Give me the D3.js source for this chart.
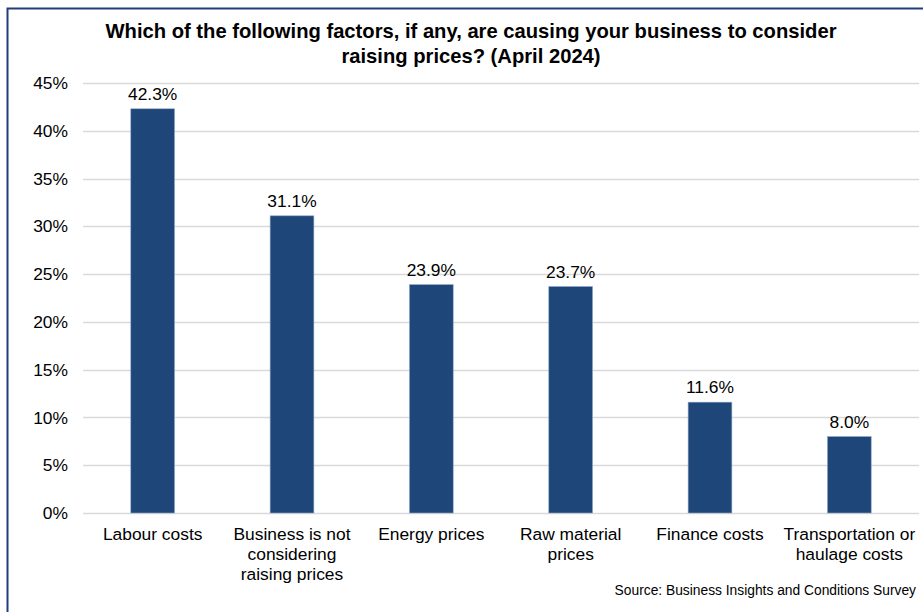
<!DOCTYPE html>
<html>
<head>
<meta charset="utf-8">
<script src="https://cdn.jsdelivr.net/npm/d3@7"></script>
<style>
  html, body { margin: 0; padding: 0; background: #fff; }
  svg { display: block; font-family: "Liberation Sans", Arial, sans-serif; }
</style>
</head>
<body>
<svg id="chart" width="923" height="612"></svg>
<script>
// Survey responses: share of businesses citing each factor
const categories = [
  ["Labour costs"],
  ["Business is not", "considering", "raising prices"],
  ["Energy prices"],
  ["Raw material", "prices"],
  ["Finance costs"],
  ["Transportation or", "haulage costs"]
];
const values = [42.3, 31.1, 23.9, 23.7, 11.6, 8.0];
const valueLabels = ["42.3%", "31.1%", "23.9%", "23.7%", "11.6%", "8.0%"];
const yTicks = [0, 5, 10, 15, 20, 25, 30, 35, 40, 45];
const titleLines = [
  "Which of the following factors, if any, are causing your business to consider",
  "raising prices? (April 2024)"
];
const sourceText = "Source: Business Insights and Conditions Survey";

const svg = d3.select("#chart");
const W = 923, H = 612;
const labelSize = 17.4;

// outer frame
svg.append("rect")
  .attr("x", 7.5).attr("y", 8.5)
  .attr("width", W).attr("height", H)
  .attr("fill", "#fff")
  .attr("stroke", "#1f3f7a")
  .attr("stroke-width", 2);

const plot = { left: 83, right: 919, top: 83, bottom: 513 };

const idx = d3.range(values.length);
const x = d3.scaleBand()
  .domain(idx)
  .range([plot.left, plot.right])
  .paddingInner(0.686)
  .paddingOuter(0.343);

const y = d3.scaleLinear()
  .domain([0, 45])
  .range([plot.bottom, plot.top]);

// gridlines
svg.append("g")
  .selectAll("line")
  .data(yTicks)
  .join("line")
  .attr("x1", plot.left).attr("x2", plot.right)
  .attr("y1", d => Math.round(y(d)) + 0.5)
  .attr("y2", d => Math.round(y(d)) + 0.5)
  .attr("stroke", "#d9d9d9")
  .attr("stroke-width", 1.3);

// y axis labels
const yAxis = d3.axisLeft(y)
  .tickValues(yTicks)
  .tickFormat(d => d + "%")
  .tickSize(0)
  .tickPadding(15);
const yg = svg.append("g")
  .attr("transform", `translate(${plot.left},0)`)
  .call(yAxis);
yg.select(".domain").remove();
yg.selectAll("text")
  .attr("font-size", labelSize)
  .attr("font-family", "Liberation Sans, Arial, sans-serif")
  .attr("fill", "#000");

// bars
svg.append("g")
  .selectAll("rect")
  .data(values)
  .join("rect")
  .attr("x", (d, i) => x(i))
  .attr("y", d => y(d))
  .attr("width", x.bandwidth())
  .attr("height", d => y(0) - y(d))
  .attr("fill", "#1f4679")
  .attr("stroke", "#8ea6c8")
  .attr("stroke-width", 0.6);

// value labels
svg.append("g")
  .selectAll("text")
  .data(values)
  .join("text")
  .attr("x", (d, i) => x(i) + x.bandwidth() / 2)
  .attr("y", d => y(d) - 9)
  .attr("text-anchor", "middle")
  .attr("font-size", labelSize)
  .attr("fill", "#000")
  .text((d, i) => valueLabels[i]);

// category labels
const cg = svg.append("g");
categories.forEach((lines, i) => {
  const t = cg.append("text")
    .attr("x", x(i) + x.bandwidth() / 2)
    .attr("y", 540)
    .attr("text-anchor", "middle")
    .attr("font-size", labelSize)
    .attr("fill", "#000");
  lines.forEach((ln, j) => {
    t.append("tspan")
      .attr("x", x(i) + x.bandwidth() / 2)
      .attr("y", 540 + j * 20)
      .text(ln);
  });
});

// title
svg.append("g")
  .selectAll("text")
  .data(titleLines)
  .join("text")
  .attr("x", 471)
  .attr("y", (d, i) => 38 + i * 25)
  .attr("text-anchor", "middle")
  .attr("font-size", 20.2)
  .attr("font-weight", "bold")
  .attr("fill", "#000")
  .text(d => d);

// source note
svg.append("text")
  .attr("x", 916)
  .attr("y", 595)
  .attr("text-anchor", "end")
  .attr("font-size", 13.8)
  .attr("fill", "#000")
  .text(sourceText);
</script>
</body>
</html>
